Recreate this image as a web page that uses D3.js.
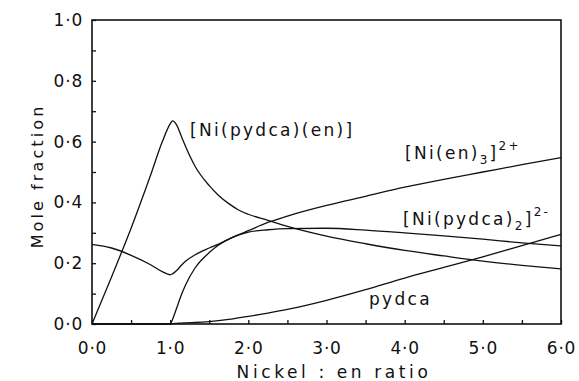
<!DOCTYPE html>
<html>
<head>
<meta charset="utf-8">
<script src="https://cdn.jsdelivr.net/npm/d3@7"></script>
<style>
  html, body { margin: 0; padding: 0; background: #fff; }
  svg { display: block; }
  text { font-family: "DejaVu Sans", sans-serif; fill: #111; }
  .tick text { font-size: 17px; letter-spacing: 0.8px; }
  .curve { fill: none; stroke: #111; stroke-width: 1.3; }
</style>
</head>
<body>
<svg id="chart" width="579" height="381"></svg>
<script>
// Nickel : en ratio
const ratio = [0, 0.25, 0.5, 0.75, 0.9, 1.0, 1.03, 1.08, 1.15, 1.2, 1.32, 1.5, 1.62, 1.75, 1.87, 2.0, 2.25, 2.5, 3.0, 3.5, 4.0, 4.5, 5.0, 5.5, 6.0];

// mole fractions
const niPydcaEn = [0, 0.155, 0.315, 0.49, 0.6, 0.658, 0.668, 0.656, 0.613, 0.582, 0.518, 0.455, 0.423, 0.396, 0.376, 0.361, 0.341, 0.321, 0.289, 0.264, 0.242, 0.224, 0.207, 0.193, 0.181];
const niEn3 = [0, 0, 0, 0, 0, 0, 0.015, 0.05, 0.1, 0.13, 0.185, 0.235, 0.26, 0.279, 0.293, 0.307, 0.334, 0.355, 0.39, 0.42, 0.45, 0.476, 0.50, 0.524, 0.547];
const niPydca2 = [0.262, 0.25, 0.226, 0.195, 0.172, 0.162, 0.165, 0.175, 0.195, 0.207, 0.228, 0.25, 0.263, 0.279, 0.292, 0.302, 0.31, 0.314, 0.315, 0.309, 0.30, 0.29, 0.279, 0.267, 0.257];
const pydca = [0, 0, 0, 0, 0, 0, 0.001, 0.002, 0.003, 0.004, 0.005, 0.008, 0.011, 0.015, 0.02, 0.025, 0.036, 0.048, 0.078, 0.113, 0.151, 0.186, 0.221, 0.258, 0.295];

const xTicks = [0, 0.5, 1, 1.5, 2, 2.5, 3, 3.5, 4, 4.5, 5, 5.5, 6];
const yTicks = [0, 0.1, 0.2, 0.3, 0.4, 0.5, 0.6, 0.7, 0.8, 0.9, 1.0];

const svg = d3.select('#chart');
const x = d3.scaleLinear().domain([0, 6]).range([92, 561]);
const y = d3.scaleLinear().domain([0, 1]).range([324, 20]);

const fmt = v => d3.format('.1f')(v).replace('.', '\u00b7');

// Frame
svg.append('rect')
  .attr('x', x(0)).attr('y', y(1))
  .attr('width', x(6) - x(0)).attr('height', y(0) - y(1))
  .attr('fill', 'none').attr('stroke', '#111').attr('stroke-width', 1.6);

// Axes (ticks point inward)
const xAxis = d3.axisBottom(x)
  .tickValues(xTicks)
  .tickSizeInner(-4).tickSizeOuter(0).tickPadding(18)
  .tickFormat(v => Number.isInteger(v) ? fmt(v) : '');
const gx = svg.append('g').attr('transform', `translate(0,${y(0)})`).call(xAxis);

const yAxis = d3.axisLeft(y)
  .tickValues(yTicks)
  .tickSizeInner(-4).tickSizeOuter(0).tickPadding(9)
  .tickFormat(v => Math.round(v * 10) % 2 === 0 ? fmt(v) : '');
const gy = svg.append('g').attr('transform', `translate(${x(0)},0)`).call(yAxis);

[gx, gy].forEach(g => {
  g.select('.domain').remove();
  g.selectAll('.tick line').attr('stroke', '#111').attr('stroke-width', 1.3);
  g.selectAll('.tick text').attr('fill', '#111').style('font-family', '"DejaVu Sans", sans-serif');
});

// Curves
const series = [niPydcaEn, niEn3, niPydca2, pydca];
const line = d3.line()
  .x((d, i) => x(ratio[i]))
  .y(d => y(d))
  .curve(d3.curveMonotoneX);

svg.append('g')
  .selectAll('path')
  .data(series)
  .join('path')
  .attr('class', 'curve')
  .attr('d', d => line(d));

// Axis titles
svg.append('text')
  .attr('x', 334).attr('y', 378)
  .attr('text-anchor', 'middle')
  .style('font-size', '17px').style('letter-spacing', '3.6px')
  .text('Nickel : en ratio');

svg.append('text')
  .attr('transform', 'translate(43,176) rotate(-90)')
  .attr('text-anchor', 'middle')
  .style('font-size', '16px').style('letter-spacing', '3.1px')
  .text('Mole fraction');

// Species labels
const lab = svg.append('g').style('font-size', '17px').style('letter-spacing', '2.3px');

lab.append('text').attr('x', 190).attr('y', 136).text('[Ni(pydca)(en)]');

const t1 = lab.append('text').attr('x', 405).attr('y', 159);
t1.append('tspan').text('[Ni(en)');
t1.append('tspan').attr('dy', 5).style('font-size', '12px').text('3');
t1.append('tspan').attr('dy', -5).text(']');
t1.append('tspan').attr('dy', -9).style('font-size', '12px').text('2+');

const t2 = lab.append('text').attr('x', 403).attr('y', 225);
t2.append('tspan').text('[Ni(pydca)');
t2.append('tspan').attr('dy', 5).style('font-size', '12px').text('2');
t2.append('tspan').attr('dy', -5).text(']');
t2.append('tspan').attr('dy', -9).style('font-size', '12px').text('2-');

lab.append('text').attr('x', 369).attr('y', 305).text('pydca');
</script>
</body>
</html>
